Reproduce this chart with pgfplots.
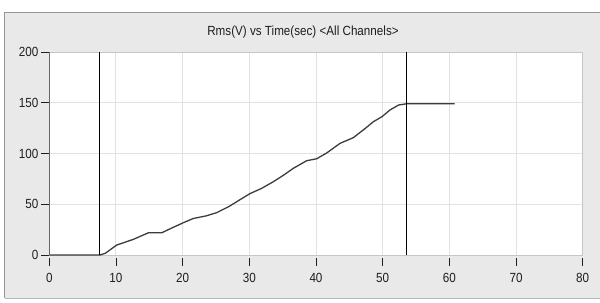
\documentclass[border=0pt]{standalone}
\usepackage{pgfplots}
\pgfplotsset{compat=1.18}
\usepackage{fontspec}
\setmainfont{Liberation Sans}[FakeStretch=0.88]
\definecolor{panel}{RGB}{233,233,233}
\definecolor{frameA}{RGB}{150,150,150}
\definecolor{gridc}{RGB}{226,226,226}
\definecolor{curve}{RGB}{60,60,60}
\definecolor{txt}{RGB}{30,30,30}
\begin{document}
\begin{tikzpicture}[x=1bp,y=1bp]
\path[use as bounding box] (-49.3,-47) rectangle (550.7,255);
\fill[white] (-49.3,-47) rectangle (550.7,255);
\fill[panel] (-44.3,-43) rectangle (550.7,242);
\draw[frameA, line width=1bp] (-44.3,-43) -- (-44.3,242) -- (550.7,242);
\draw[frameA!70, line width=1bp] (-44.3,-43.5) -- (550.7,-43.5);
\begin{axis}[
  at={(0,0)}, anchor=south west,
  width=533.4bp, height=203bp, scale only axis,
  xmin=0, xmax=80, ymin=0, ymax=200,
  xtick={0,10,...,80}, ytick={0,50,...,200},
  xtick pos=bottom, ytick pos=left,
  tick align=outside, major tick length=8bp,
  tick style={txt, line width=0.8bp},
  every x tick/.style={txt, line width=0.8bp, yshift=-3bp},
  grid=major, grid style={gridc, line width=1bp},
  axis background/.style={fill=white},
  axis line style={gray!45, line width=0.8bp},
  ticklabel style={font=\fontsize{13.3}{14}\selectfont, text=txt},
  /pgf/number format/assume math mode=true,
  xticklabel style={yshift=-7bp},
  yticklabel style={xshift=0.5bp},
  clip=false,
]
\addplot[curve, line width=1.3bp] coordinates {
(0,0) (7.6,0) (8.4,1.7) (10.1,9.8) (12.6,15.4) (14.9,22) (16.9,22) (18.5,27)
(20.1,31.8) (21.6,36) (23.5,38.5) (25.1,41.7) (26.9,47.6) (28.6,54.5) (30.1,60.5)
(31.8,65.5) (33.6,72.2) (35.1,78.5) (36.6,85.4) (38.6,92.9) (40.1,94.8) (41.6,100.5)
(43.6,110) (45.6,115.6) (47.4,124.8) (48.6,131.3) (49.9,136.3) (51.1,142.9)
(52.4,147.8) (53.4,148.8) (53.6,149) (60.8,149)
};
\addplot[black, line width=0.9bp] coordinates {(7.5,0) (7.5,200)};
\addplot[black, line width=0.9bp] coordinates {(53.6,0) (53.6,200)};
\draw[gray!80!black, line width=0.9bp] (axis cs:0,0) -- (axis cs:0,200);
\end{axis}
\node[text=txt, font=\fontsize{13.3}{14}\selectfont] at (253.7,223) {Rms(V) vs Time(sec) <All Channels>};
\end{tikzpicture}
\end{document}
